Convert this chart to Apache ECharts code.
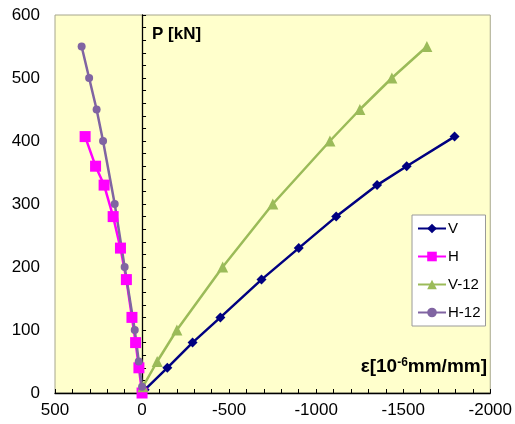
<!DOCTYPE html>
<html>
<head>
<meta charset="utf-8">
<script src="https://cdn.jsdelivr.net/npm/echarts@6/dist/echarts.min.js"></script>
<style>
html,body{margin:0;padding:0;background:#fff;}
#c{width:515px;height:424px;}
</style>
</head>
<body>
<div id="c"></div>
<script>
// Data (strain in 10^-6 mm/mm, load P in kN)
const seriesNames = ['V', 'H', 'V-12', 'H-12'];
const V_strain   = [-15, -145, -290, -450, -686, -900, -1115, -1350, -1520, -1795];
const V_load     = [5, 40, 80, 120, 180, 230, 280, 330, 360, 407];
const H_strain   = [0, 18, 37, 58, 90, 124, 166, 218, 267, 327];
const H_load     = [0, 40, 80, 120, 180, 230, 280, 330, 360, 407];
const V12_strain = [-5, -87, -200, -463, -751, -1079, -1251, -1435, -1636];
const V12_load   = [10, 50, 100, 200, 300, 400, 450, 500, 550];
const H12_strain = [0, 19, 42, 100, 157, 224, 261, 304, 347];
const H12_load   = [10, 50, 100, 200, 300, 400, 450, 500, 550];
const xTicks = [500, 0, -500, -1000, -1500, -2000];
const yTicks = [0, 100, 200, 300, 400, 500, 600];

const pair = (xs, ys) => xs.map((x, i) => [x, ys[i]]);
const FONT = 'Liberation Sans, Arial, sans-serif';

const chart = echarts.init(document.getElementById('c'), null, {renderer: 'canvas'});
const mk = (name, xs, ys, color, symbol, size) => ({
  name, type: 'line', data: pair(xs, ys),
  symbol, symbolSize: size,
  lineStyle: {color, width: 2.5},
  itemStyle: {color},
  showAllSymbol: true,
  animation: false,
  z: 3
});

chart.setOption({
  animation: false,
  backgroundColor: '#ffffff',
  grid: {left: 55, top: 15, right: 23, bottom: 31, show: true,
         backgroundColor: '#ffffcc', borderColor: '#a6a68c', borderWidth: 1},
  xAxis: {
    type: 'value', min: xTicks[xTicks.length - 1], max: xTicks[0], interval: 500, inverse: true,
    splitLine: {show: false},
    axisLine: {onZero: false, lineStyle: {color: '#000', width: 1.3}},
    axisTick: {inside: true, length: 4, lineStyle: {color: '#000'}},
    minorTick: {show: true, splitNumber: 5, length: 4, lineStyle: {color: '#000'}},
    axisLabel: {color: '#000', fontSize: 17, fontFamily: FONT, margin: 9,
                formatter: v => String(v)}
  },
  yAxis: [{
    type: 'value', min: yTicks[0], max: yTicks[yTicks.length - 1], interval: 100,
    splitLine: {show: false},
    axisLine: {show: false, onZero: false},
    axisTick: {show: false},
    axisLabel: {color: '#000', fontSize: 17, fontFamily: FONT, margin: 15,
                formatter: v => String(v)}
  }, {
    type: 'value', min: yTicks[0], max: yTicks[yTicks.length - 1], interval: 100, position: 'left',
    splitLine: {show: false},
    axisLine: {show: true, onZero: true, onZeroAxisIndex: 0, lineStyle: {color: '#000', width: 1.3}},
    axisTick: {show: true, inside: true, length: 4, lineStyle: {color: '#000'}},
    minorTick: {show: true, splitNumber: 5, length: 4, lineStyle: {color: '#000'}},
    axisLabel: {show: false}
  }],
  legend: {
    orient: 'vertical', left: 412, top: 215,
    data: seriesNames,
    backgroundColor: '#ffffff', borderColor: '#9a9a9a', borderWidth: 1,
    padding: [6, 5, 6, 5],
    itemWidth: 28, itemHeight: 12, itemGap: 13,
    textStyle: {color: '#000', fontSize: 15, fontFamily: FONT, padding: [0, 0, 0, -3]}
  },
  series: [
    mk(seriesNames[0], V_strain, V_load, '#000080', 'diamond', 10),
    mk(seriesNames[1], H_strain, H_load, '#ff00ff', 'rect', 11),
    mk(seriesNames[2], V12_strain, V12_load, '#9bbb59', 'triangle', 11),
    mk(seriesNames[3], H12_strain, H12_load, '#8064a2', 'circle', 8)
  ],
  graphic: [
    {type: 'text', left: 152, top: 26, z: 10,
     style: {text: 'P [kN]', fill: '#000', font: 'bold 17px ' + FONT}},
    {type: 'text', right: 28, top: 357, z: 10,
     style: {text: '{a|ε[10}{s|-6}{a|mm/mm]}', fill: '#000',
       rich: {a: {font: 'bold 19px ' + FONT, fill: '#000', verticalAlign: 'bottom'},
              s: {font: 'bold 12px ' + FONT, fill: '#000', verticalAlign: 'top'}}}}
  ]
});
</script>
</body>
</html>
